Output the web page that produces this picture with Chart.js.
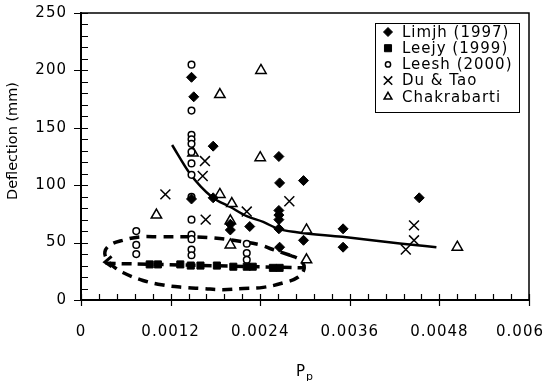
<!DOCTYPE html>
<html>
<head>
<meta charset="utf-8">
<script src="https://cdn.jsdelivr.net/npm/chart.js@4.4.0/dist/chart.umd.min.js"></script>
<style>
  html, body { margin: 0; padding: 0; background: #fff; }
</style>
</head>
<body>
<canvas id="grafico" width="544" height="381"></canvas>
<script>
// eixos
const xTickLabels = ['0', '0.0012', '0.0024', '0.0036', '0.0048', '0.006'];
const yTickLabels = ['0', '50', '100', '150', '200', '250'];

// Limjh (1997)
const limjhPp = [0.00148, 0.00151, 0.00177, 0.00265, 0.00266, 0.00298, 0.00177, 0.00148, 0.00200, 0.00200,
  0.00226, 0.00265, 0.00265, 0.00265, 0.00265, 0.00266, 0.00298, 0.00351, 0.00351, 0.00453];
const limjhDefl = [194, 177, 134, 125, 102, 104, 89, 88, 66, 61, 64, 78, 74, 70, 62, 46, 52, 62, 46, 89];

// Leejy (1999)
const leejyPp = [0.00092, 0.00103, 0.00133, 0.00147, 0.00160, 0.00182, 0.00204, 0.00222, 0.00230, 0.00257, 0.00266];
const leejyDefl = [31, 31, 31, 30, 30, 30, 29, 29, 29, 28, 28];

// Leesh (2000)
const leeshPp = [0.00074, 0.00074, 0.00074,
  0.00148, 0.00148, 0.00148, 0.00148, 0.00148, 0.00148, 0.00148, 0.00148, 0.00148, 0.00148, 0.00148, 0.00148, 0.00148, 0.00148,
  0.00222, 0.00222, 0.00222];
const leeshDefl = [60, 48, 40, 205, 165, 144, 140, 136, 129, 119, 109, 90, 70, 57, 53, 44, 39, 49, 41, 35];

// Du & Tao
const duTaoPp = [0.00113, 0.00166, 0.00163, 0.00222, 0.00279, 0.00167, 0.00446, 0.00446, 0.00435];
const duTaoDefl = [92, 121, 108, 77, 86, 70, 65, 52, 44];

// Chakrabarti
const chakPp = [0.00241, 0.00186, 0.00150, 0.00240, 0.00186, 0.00202, 0.00101, 0.00200, 0.00200, 0.00302, 0.00302, 0.00504];
const chakDefl = [200, 179, 128, 124, 92, 84, 74, 69, 48, 61, 35, 46];

// curva de ajuste (linha cheia)
const fitPp = [0.00122, 0.00146, 0.00175, 0.00200, 0.00222, 0.00244, 0.00264, 0.00289, 0.00350, 0.00430, 0.00476];
const fitDefl = [135, 110, 90, 81, 73, 68, 62, 59, 55, 49, 46];

// elipse tracejada em volta do grupo de baixo
const elipsePp = [0.00280, 0.00257, 0.00240, 0.00204, 0.00177, 0.00146, 0.00106, 0.00079, 0.00056, 0.00039, 0.00032,
  0.00035, 0.00042, 0.00056, 0.00083, 0.00110, 0.00137, 0.00163, 0.00190, 0.00217, 0.00244, 0.00271, 0.00291,
  0.00299, 0.00293, 0.00280];
const elipseDefl = [39, 44, 48, 52, 54, 55, 55, 55, 52, 48, 42, 35, 30, 24, 17, 13, 11, 10, 9, 10, 11, 15, 20, 28, 35, 39];

// seta tracejada
const setaPp = [0.00033, 0.00299];
const setaDefl = [32, 28];
const pontaPp = [0.00041, 0.00032, 0.00041];
const pontaDefl = [38, 33, 29];

const fonte = 'DejaVu Sans';
Chart.defaults.font.family = fonte;
Chart.defaults.font.size = 15;
Chart.defaults.color = '#000';

const pontos = (xs, ys) => xs.map((x, i) => ({ x, y: ys[i] }));

const marcadores = [
  { label: 'Limjh (1997)', xs: limjhPp, ys: limjhDefl, style: 'rectRot', r: 5, fill: '#000', lw: 1, lr: 4.5 },
  { label: 'Leejy (1999)', xs: leejyPp, ys: leejyDefl, style: 'rect', r: 5, fill: '#000', lw: 1, lr: 5 },
  { label: 'Leesh (2000)', xs: leeshPp, ys: leeshDefl, style: 'circle', r: 3.3, fill: '#fff', lw: 1.5, lr: 2.6 },
  { label: 'Du & Tao', xs: duTaoPp, ys: duTaoDefl, style: 'crossRot', r: 7, fill: '#fff', lw: 1.5, lr: 6 },
  { label: 'Chakrabarti', xs: chakPp, ys: chakDefl, style: 'triangle', r: 6, fill: '#fff', lw: 1.5, lr: 4.5 }
];

const datasets = marcadores.map(m => ({
  label: m.label,
  data: pontos(m.xs, m.ys),
  pointStyle: m.style,
  pointRadius: m.r,
  pointBackgroundColor: m.fill,
  pointBorderColor: '#000',
  pointBorderWidth: m.lw,
  order: 0
}));

const linha = (xs, ys, extra) => Object.assign({
  data: pontos(xs, ys),
  showLine: true,
  pointRadius: 0,
  borderColor: '#000',
  backgroundColor: '#000',
  fill: false,
  order: 1
}, extra);

datasets.push(
  linha(fitPp, fitDefl, { borderWidth: 2.5, cubicInterpolationMode: 'monotone' }),
  linha(elipsePp, elipseDefl, { borderWidth: 3.5, borderDash: [10, 7], tension: 0.4 }),
  linha(setaPp, setaDefl, { borderWidth: 3.5, borderDash: [10, 6] }),
  linha(pontaPp, pontaDefl, { borderWidth: 3 })
);

// ticks cruzando o eixo, rotulos de x, moldura, titulos e legenda
const moldura = {
  id: 'moldura',
  beforeDraw(chart) {
    chart.ctx.letterSpacing = '1px';
  },
  afterDraw(chart) {
    const { ctx, chartArea: a, scales: { x, y } } = chart;
    ctx.save();
    ctx.strokeStyle = '#000';
    ctx.fillStyle = '#000';

    ctx.lineWidth = 1.5;
    ctx.beginPath();
    ctx.moveTo(a.left, a.top);
    ctx.lineTo(a.right, a.top);
    ctx.lineTo(a.right, a.bottom);
    ctx.stroke();

    const passoX = 0.0012 / 5;
    const passoY = 10;
    ctx.lineWidth = 1.2;
    ctx.beginPath();
    for (let k = 0; k <= 25; k++) {
      const px = Math.round(x.getPixelForValue(k * passoX)) + 0.5;
      ctx.moveTo(px, a.bottom - 6);
      ctx.lineTo(px, a.bottom + (k % 5 === 0 ? 6 : 0));
      const py = Math.round(y.getPixelForValue(k * passoY)) + 0.5;
      ctx.moveTo(a.left + 7, py);
      ctx.lineTo(a.left - (k % 5 === 0 ? 7 : 0), py);
    }
    ctx.stroke();

    // rotulos do eixo x (o ultimo fica dentro da janela)
    ctx.font = `15px ${fonte}`;
    ctx.textAlign = 'left';
    ctx.textBaseline = 'middle';
    xTickLabels.forEach((t, i) => {
      const w = ctx.measureText(t).width;
      let lx = x.getPixelForValue(i * 0.0012) - w / 2;
      lx = Math.min(lx, chart.width - w);
      ctx.fillText(t, lx, 332);
    });

    // titulo do eixo x com subscrito
    ctx.letterSpacing = '0px';
    ctx.textBaseline = 'alphabetic';
    const cx = (a.left + a.right) / 2 - 9;
    ctx.fillText('P', cx, 376);
    ctx.font = `11px ${fonte}`;
    ctx.fillText('p', cx + 10, 380);

    // titulo do eixo y
    ctx.save();
    ctx.translate(13, 141);
    ctx.rotate(-Math.PI / 2);
    ctx.textAlign = 'center';
    ctx.textBaseline = 'middle';
    ctx.font = `14.5px ${fonte}`;
    ctx.fillText('Deflection (mm)', 0, 0);
    ctx.restore();

    // legenda
    ctx.lineWidth = 1;
    ctx.fillStyle = '#fff';
    ctx.fillRect(375, 23, 144, 89);
    ctx.strokeRect(375.5, 23.5, 144, 89);
    ctx.letterSpacing = '1px';
    ctx.font = `15px ${fonte}`;
    ctx.textAlign = 'left';
    ctx.textBaseline = 'middle';
    marcadores.forEach((m, i) => {
      const ly = 32 + i * 16.2;
      ctx.fillStyle = m.fill;
      ctx.lineWidth = m.lw;
      Chart.helpers.drawPoint(ctx, { pointStyle: m.style, radius: m.lr, borderWidth: m.lw, rotation: 0 }, 388, ly);
      ctx.fillStyle = '#000';
      ctx.fillText(m.label, 402, ly + 1);
    });
    ctx.restore();
  }
};

new Chart(document.getElementById('grafico'), {
  type: 'scatter',
  data: { datasets },
  plugins: [moldura],
  options: {
    responsive: false,
    animation: false,
    layout: { padding: { left: 0, right: 15, top: 13, bottom: 0 } },
    plugins: { legend: { display: false }, tooltip: { enabled: false } },
    scales: {
      x: {
        type: 'linear',
        min: 0,
        max: 0.006,
        afterFit: s => { s.height = 81; s.paddingLeft = 0; s.paddingRight = 0; },
        afterBuildTicks: s => { s.ticks = xTickLabels.map((t, i) => ({ value: i * 0.0012 })); },
        ticks: { display: false },
        grid: { display: false, drawTicks: false },
        border: { display: true, color: '#000', width: 2 }
      },
      y: {
        type: 'linear',
        min: 0,
        max: 250,
        afterFit: s => { s.width = 81; s.paddingTop = 0; s.paddingBottom = 0; },
        afterBuildTicks: s => { s.ticks = yTickLabels.map((t, i) => ({ value: i * 50 })); },
        ticks: { padding: 14, callback: (v, i) => yTickLabels[i] },
        grid: { display: false, drawTicks: false },
        border: { display: true, color: '#000', width: 2 }
      }
    }
  }
});
</script>
</body>
</html>
